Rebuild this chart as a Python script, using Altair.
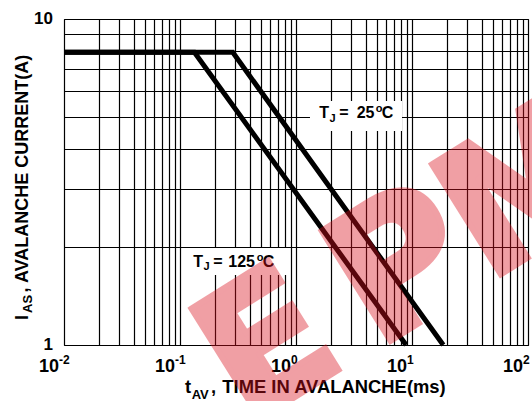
import altair as alt
import pandas as pd

# ---- data ----
t_125 = [0.01, 0.133, 8.9]      # ms
i_125 = [7.9, 7.9, 1.0]         # A
t_25 = [0.01, 0.285, 18.6]
i_25 = [7.9, 7.9, 1.0]

x_decades = [0.01, 0.1, 1, 10, 100]
x_exponents = ["-2", "-1", "0", "1", "2"]
y_ticks = [1, 10]
y_tick_labels = ["1", "10"]

x_grid = [k * 10.0 ** d for d in range(-2, 2) for k in range(1, 10)] + [100]
y_grid = list(range(1, 11))

FONT = "Liberation Sans"

curves = pd.concat([
    pd.DataFrame({"t": t_125, "i": i_125, "tj": "125"}),
    pd.DataFrame({"t": t_25, "i": i_25, "tj": "25"}),
])

xs = alt.Scale(type="log", domain=[0.01, 100], nice=False)
ys = alt.Scale(type="log", domain=[1, 10], nice=False)

lines = alt.Chart(curves).mark_line(
    color="black", strokeWidth=5, strokeJoin="miter", strokeCap="butt"
).encode(
    x=alt.X("t:Q", scale=xs, axis=alt.Axis(values=x_grid, grid=True, gridColor="black",
                                            gridOpacity=1, gridWidth=1.2, labels=False,
                                            ticks=False, domain=False, title=None)),
    y=alt.Y("i:Q", scale=ys, axis=alt.Axis(values=y_grid, grid=True, gridColor="black",
                                            gridOpacity=1, gridWidth=1.2, labels=False,
                                            ticks=False, domain=False, title=None)),
    detail="tj:N",
    order="t:Q",
)

# white boxes behind curve labels
boxes_df = pd.DataFrame({
    "x1": [1.32, 0.104], "x2": [8.2, 0.836],
    "y1": [5.6, 1.984], "y2": [4.53, 1.639],
})
boxes = alt.Chart(boxes_df).mark_rect(color="white").encode(
    x="x1:Q", x2="x2:Q", y="y1:Q", y2="y2:Q"
)

# curve labels (anchor in data coords, pieces offset in px)
def label_layers(ax, ay, parts):
    out = []
    df = pd.DataFrame({"x": [ax], "y": [ay]})
    for txt, dx, dy, size in parts:
        out.append(alt.Chart(df).mark_text(
            align="left", baseline="alphabetic", font=FONT, fontWeight="bold",
            fontSize=size, dx=dx, dy=dy, color="black"
        ).encode(x="x:Q", y="y:Q", text=alt.value(txt)))
    return out

lab25 = label_layers(1.588, 4.98, [("T", 0, 0, 16), ("J", 10.2, 3.8, 11), ("=", 20, 0, 16),
                                   ("25", 37.4, 0, 16), ("o", 56.5, -6, 11), ("C", 62.4, 0, 16)])
lab125 = label_layers(0.1302, 1.739, [("T", 0, 0, 16), ("J", 10.2, 3.8, 11), ("=", 20, 0, 16),
                                      ("125", 35, 0, 16), ("o", 63.4, -6, 11), ("C", 69.4, 0, 16)])

# tick labels
xt_df = pd.DataFrame({"x": x_decades, "e": x_exponents})
xt_base = alt.Chart(xt_df).mark_text(
    align="right", baseline="alphabetic", font=FONT, fontWeight="bold", fontSize=18,
    dx=-5, dy=27, color="black"
).encode(x="x:Q", y=alt.datum(1), text=alt.value("10"))
xt_exp = alt.Chart(xt_df).mark_text(
    align="left", baseline="alphabetic", font=FONT, fontWeight="bold", fontSize=12,
    dx=-5, dy=19, color="black"
).encode(x="x:Q", y=alt.datum(1), text="e:N")

yt_df = pd.DataFrame({"y": y_ticks, "lab": y_tick_labels})
yt = alt.Chart(yt_df).mark_text(
    align="right", baseline="middle", font=FONT, fontWeight="bold", fontSize=17,
    dx=-11, color="black"
).encode(x=alt.datum(0.01), y="y:Q", text="lab:N")

# axis titles with sub-scripts
def txt(t, x, y, size, angle=0):
    return alt.Chart(pd.DataFrame({"a": [0]})).mark_text(
        align="left", baseline="alphabetic", font=FONT, fontWeight="bold",
        fontSize=size, angle=angle, color="black"
    ).encode(x=alt.value(x), y=alt.value(y), text=alt.value(t))

xtitle = [txt("t", 121, 374.3, 18.4), txt("AV", 127.7, 380.3, 13), txt(",", 147, 374.3, 18.4),
          txt("TIME IN AVALANCHE(ms)", 158.3, 374.3, 18.4)]
ytitle = [txt("I", -36.5, 301, 18, 270), txt("AS", -32.5, 294, 13, 270),
          txt(",", -36.5, 273.5, 18, 270), txt("AVALANCHE CURRENT(A)", -36.5, 264, 18, 270)]

# red watermark letters
wm_df = pd.DataFrame({"ch": ["E", "P", "M"], "px": [206, 340, 470], "py": [331, 251, 172]})
watermark = alt.Chart(wm_df).mark_text(
    align="center", baseline="middle", font="DejaVu Sans", fontWeight="bold",
    fontSize=178, angle=328, color="#dc111e", stroke="#dc111e", strokeWidth=6,
    opacity=0.4
).encode(x=alt.X("px:Q", scale=None), y=alt.Y("py:Q", scale=None), text="ch:N")

chart = alt.layer(
    lines, boxes, *lab25, *lab125, xt_base, xt_exp, yt, *xtitle, *ytitle
).properties(
    width=464, height=326,
)

wm_layer = watermark.properties(width=464, height=326)

final = alt.layer(chart, wm_layer).resolve_scale(x="independent", y="independent").properties(
    autosize=alt.AutoSizeParams(type="none"),
    padding={"left": 64, "top": 19, "right": 4, "bottom": 56},
).configure_view(stroke="black", strokeWidth=1)

final.save("out.html", embed_options={"renderer": "svg", "actions": False})
